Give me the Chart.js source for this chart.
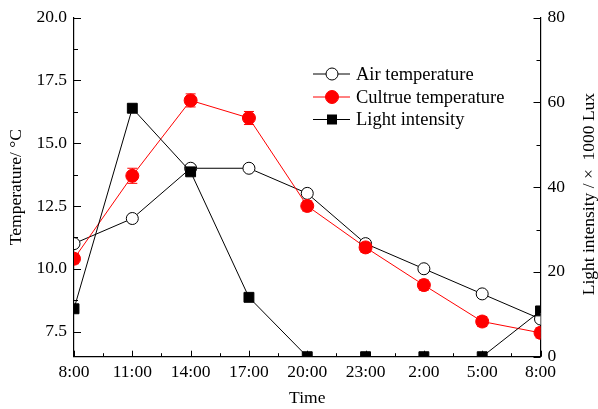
<!DOCTYPE html>
<html><head><meta charset="utf-8">
<script src="https://cdn.jsdelivr.net/npm/chart.js@4/dist/chart.umd.min.js"></script>
<style>html,body{margin:0;padding:0;background:#fff}</style>
</head><body>
<canvas id="c" width="598" height="409" style="display:block;width:598px;height:409px"></canvas>
<script>
const categories = ['8:00','11:00','14:00','17:00','20:00','23:00','2:00','5:00','8:00'];
const airTemp = [11.0, 12.0, 14.0, 14.0, 13.0, 11.0, 10.0, 9.0, 8.0];
const cultureTemp = [10.4, 13.7, 16.7, 16.0, 12.5, 10.85, 9.35, 7.9, 7.45];
const cultureErr = [0.2, 0.3, 0.26, 0.26, 0.2, 0.2, 0.2, 0.2, 0.2];
const lightIntensity = [11.3, 58.6, 43.6, 14.0, 0, 0, 0, 0, 10.8];
const tempTicks = [7.5, 10, 12.5, 15, 17.5, 20];
const tempMinorTicks = [8.75, 11.25, 13.75, 16.25, 18.75];
const lightTicks = [0, 20, 40, 60, 80];
const lightMinorTicks = [10, 30, 50, 70];
const seriesNames = ['Air temperature', 'Cultrue temperature', 'Light intensity'];
const xTitle = 'Time';
const leftTitle = 'Temperature/ \u00B0C';
const rightTitle = 'Light intensity / \u00D7  1000 Lux';

const FONT = 'Liberation Serif, "Times New Roman", serif';
const FS = 17.5;
const LFS = 18.5;

const errorBars = {
  id: 'errorBars',
  afterDatasetDraw(chart, args) {
    if (args.index !== 1) return;
    const ctx = chart.ctx, y = chart.scales.y, x = chart.scales.x, a = chart.chartArea;
    ctx.save();
    ctx.beginPath(); ctx.rect(a.left, a.top, a.right - a.left, a.bottom - a.top); ctx.clip();
    ctx.strokeStyle = '#ff0000'; ctx.lineWidth = 1;
    cultureTemp.forEach((v, i) => {
      const px = x.getPixelForValue(i);
      const hi = y.getPixelForValue(v + cultureErr[i]);
      const lo = y.getPixelForValue(v - cultureErr[i]);
      ctx.beginPath();
      ctx.moveTo(px, hi); ctx.lineTo(px, lo);
      ctx.moveTo(px - 5, hi); ctx.lineTo(px + 5, hi);
      ctx.moveTo(px - 5, lo); ctx.lineTo(px + 5, lo);
      ctx.stroke();
    });
    ctx.restore();
  }
};

const extras = {
  id: 'extras',
  afterDraw(chart) {
    const ctx = chart.ctx, a = chart.chartArea;
    const x = chart.scales.x, y = chart.scales.y, y2 = chart.scales.y2;
    ctx.save();
    ctx.strokeStyle = '#000'; ctx.lineWidth = 1;
    const seg = (x1, y1, x2, y2_) => { ctx.beginPath(); ctx.moveTo(x1, y1); ctx.lineTo(x2, y2_); ctx.stroke(); };
    tempTicks.forEach(v => { const p = Math.round(y.getPixelForValue(v)) + 0.5; seg(a.left, p, a.left + 7, p); });
    tempMinorTicks.forEach(v => { const p = Math.round(y.getPixelForValue(v)) + 0.5; seg(a.left, p, a.left + 4, p); });
    lightTicks.forEach(v => { const p = Math.round(y2.getPixelForValue(v)) + 0.5; seg(a.right, p, a.right - 7, p); });
    lightMinorTicks.forEach(v => { const p = Math.round(y2.getPixelForValue(v)) + 0.5; seg(a.right, p, a.right - 4, p); });
    categories.forEach((c, i) => {
      const p = Math.round(x.getPixelForValue(i)) + 0.5; seg(p, a.bottom, p, a.bottom - 6);
      if (i < categories.length - 1) {
        const m = Math.round(x.getPixelForValue(i + 0.5)) + 0.5; seg(m, a.bottom, m, a.bottom - 3.5);
      }
    });
    // right axis title (reads bottom to top)
    ctx.fillStyle = '#000';
    ctx.font = FS + 'px ' + FONT;
    ctx.translate(589, (a.top + a.bottom) / 2 + 7);
    ctx.rotate(-Math.PI / 2);
    ctx.textAlign = 'center'; ctx.textBaseline = 'middle';
    ctx.fillText(rightTitle, 0, 0);
    ctx.restore();

    // legend
    ctx.save();
    const rowsY = [74, 97, 119.5];
    [0, 1, 2].forEach((di, r) => {
      const ds = chart.data.datasets[di];
      const yy = rowsY[r];
      ctx.strokeStyle = ds.borderColor; ctx.lineWidth = 1;
      seg(313, yy, 350, yy);
      if (ds.pointStyle === 'rect') {
        ctx.fillStyle = ds.pointBackgroundColor;
        ctx.fillRect(332 - 5, yy - 5, 10, 10);
      } else {
        ctx.beginPath(); ctx.arc(332, yy, ds.pointRadius, 0, Math.PI * 2);
        ctx.fillStyle = ds.pointBackgroundColor; ctx.fill();
        ctx.strokeStyle = ds.pointBorderColor; ctx.stroke();
      }
      ctx.fillStyle = '#000';
      ctx.font = LFS + 'px ' + FONT;
      ctx.textAlign = 'left'; ctx.textBaseline = 'middle';
      ctx.fillText(ds.label, 356, yy + 1);
    });
    ctx.restore();
  }
};

const noGrid = { display: false, drawTicks: false, tickLength: 0 };

new Chart(document.getElementById('c'), {
  type: 'line',
  data: {
    labels: categories,
    datasets: [
      { label: seriesNames[0], data: airTemp, yAxisID: 'y', order: 2, clip: 0,
        borderColor: '#000', borderWidth: 1, pointRadius: 6, pointStyle: 'circle',
        pointBackgroundColor: '#fff', pointBorderColor: '#000', pointBorderWidth: 1, tension: 0 },
      { label: seriesNames[1], data: cultureTemp, yAxisID: 'y', order: 1, clip: 0,
        borderColor: '#ff0000', borderWidth: 1, pointRadius: 6.5, pointStyle: 'circle',
        pointBackgroundColor: '#ff0000', pointBorderColor: '#ff0000', pointBorderWidth: 1, tension: 0 },
      { label: seriesNames[2], data: lightIntensity, yAxisID: 'y2', order: 0, clip: 0,
        borderColor: '#000', borderWidth: 1, pointRadius: 7, pointStyle: 'rect',
        pointBackgroundColor: '#000', pointBorderColor: '#000', pointBorderWidth: 1, tension: 0 }
    ]
  },
  options: {
    responsive: false, animation: false, devicePixelRatio: 1,
    layout: { padding: { top: 14.7, left: 0, right: 0, bottom: 0 } },
    plugins: { legend: { display: false }, tooltip: { enabled: false } },
    scales: {
      x: {
        type: 'category', offset: false,
        grid: noGrid, border: { display: true, color: '#000', width: 1.2 },
        ticks: { color: '#000', font: { family: FONT, size: FS }, padding: 5.5, maxRotation: 0, autoSkip: false },
        title: { display: true, text: xTitle, color: '#000', font: { family: FONT, size: FS }, padding: { top: 0, bottom: 0 } },
        afterFit(s) { s.height = 409 - 356.7; }
      },
      y: {
        position: 'left', min: 6.5, max: 20,
        grid: noGrid, border: { display: true, color: '#000', width: 1.2 },
        afterBuildTicks(s) { s.ticks = tempTicks.map(v => ({ value: v })); },
        ticks: { color: '#000', font: { family: FONT, size: FS }, padding: 7, callback: v => Number(v).toFixed(1) },
        title: { display: true, text: leftTitle, color: '#000', font: { family: FONT, size: FS }, padding: { top: 6, bottom: 0 } },
        afterFit(s) { s.width = 74; }
      },
      y2: {
        position: 'right', min: 0, max: 80,
        grid: noGrid, border: { display: true, color: '#000', width: 1.2 },
        afterBuildTicks(s) { s.ticks = lightTicks.map(v => ({ value: v })); },
        ticks: { color: '#000', font: { family: FONT, size: FS }, padding: 7 },
        afterFit(s) { s.width = 598 - 540.5; }
      }
    }
  },
  plugins: [errorBars, extras]
});
</script>
</body></html>
